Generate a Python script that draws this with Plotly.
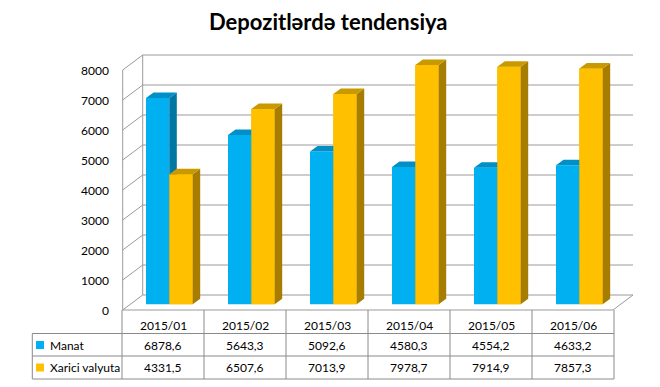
import plotly.graph_objects as go

# ---------------- data ----------------
categories = ["2015/01", "2015/02", "2015/03", "2015/04", "2015/05", "2015/06"]
manat = [6878.6, 5643.3, 5092.6, 4580.3, 4554.2, 4633.2]
xarici = [4331.5, 6507.6, 7013.9, 7978.7, 7914.9, 7857.3]
series_names = ["Manat", "Xarici valyuta"]
y_ticks = [0, 1000, 2000, 3000, 4000, 5000, 6000, 7000, 8000]
title_text = "Depozitlərdə tendensiya"

# ---------------- geometry / style ----------------
# the page body has an 8px default margin, so the figure is made 8px smaller
# and all pixel constants below are given in screen (window) pixels
BODY = 8
W, H = 660 - BODY, 387 - BODY
ML, MR, MT, MB = 120 - BODY, 20, 50 - BODY, 75
PW, PH = W - ML - MR, H - MT - MB
SX0, SY0 = ML + BODY, MT + BODY   # screen position of plot-area top-left
C0 = 163.0          # screen pixel of first category centre
PXC = 82.0          # pixels per category
BASE = 304.3        # screen pixel of value 0 on the bar plane
PXV = 0.03          # pixels per value unit
DX, DY = 7.5, 5.5   # bar depth (pixels)
FRONT_OFF = 5.7     # front plane offset below bar plane (px)
BACK_OFF = 9.3      # back wall offset above bar plane (px)
AX_FRONT_X, AX_BACK_X = 122.7, 142.7
GRID_END_X = 633.0
FLOOR_RIGHT_X = 613.0

FONT = "Lato"
GRID = "#9A9A9A"
TABLE_LINE = "#8A8A8A"
colors = {
    "Manat": dict(front="#00B0F0", side="#0076A3", top="#008FC6"),
    "Xarici valyuta": dict(front="#FFC000", side="#A67D00", top="#C99A00"),
}
bar_off = {"Manat": (-17.0, 23.3), "Xarici valyuta": (6.3, 23.4)}


def xd(px):
    return (px - C0) / PXC


def ux(px):
    return px / PXC


def uy(px):
    return px / PXV


def pxp(x):
    return (x - SX0) / PW


def pyp(y):
    return (SY0 + PH - y) / PH


idx = list(range(len(categories)))
values = {"Manat": manat, "Xarici valyuta": xarici}

fig = go.Figure()

# front faces as real bars
for name in series_names:
    off, wid = bar_off[name]
    fig.add_trace(go.Bar(
        x=idx, y=values[name], name=name,
        offset=ux(off), width=ux(wid),
        marker=dict(color=colors[name]["front"], line=dict(width=0)),
        showlegend=False, hoverinfo="skip",
    ))


def poly_trace(xs, ys, color):
    return go.Scatter(x=xs, y=ys, mode="lines", fill="toself", fillcolor=color,
                      line=dict(width=0, color=color), hoverinfo="skip",
                      showlegend=False)


# 3D side/top faces, drawn in depth order
for k, name in enumerate(series_names):
    off, wid = bar_off[name]
    fx, fy, sx, sy, tx, ty = [], [], [], [], [], []
    for i, v in zip(idx, values[name]):
        xl = i + ux(off)
        xr = i + ux(off + wid)
        ddx, ddy = ux(DX), uy(DY)
        fx += [xl, xr, xr, xl, xl, None]
        fy += [0, 0, v, v, 0, None]
        sx += [xr, xr + ddx, xr + ddx, xr, xr, None]
        sy += [0, ddy, v + ddy, v, 0, None]
        tx += [xl, xr, xr + ddx, xl + ddx, xl, None]
        ty += [v, v, v + ddy, v + ddy, v, None]
    if k > 0:
        fig.add_trace(poly_trace(fx, fy, colors[name]["front"]))
    fig.add_trace(poly_trace(sx, sy, colors[name]["side"]))
    fig.add_trace(poly_trace(tx, ty, colors[name]["top"]))

shapes = []
annotations = []

# back wall gridlines and left-wall diagonals
for v in y_ticks:
    yb = v + uy(BACK_OFF)
    yf = v - uy(FRONT_OFF)
    shapes.append(dict(type="line", xref="x", yref="y", layer="below",
                       x0=xd(AX_BACK_X), x1=xd(GRID_END_X), y0=yb, y1=yb,
                       line=dict(color=GRID, width=1)))
    shapes.append(dict(type="line", xref="x", yref="y", layer="below",
                       x0=xd(AX_FRONT_X), x1=xd(AX_BACK_X), y0=yf, y1=yb,
                       line=dict(color=GRID, width=1)))
    annotations.append(dict(xref="paper", yref="y", x=pxp(111), y=yf,
                            xanchor="right", yanchor="middle", showarrow=False,
                            text=f"{v}", font=dict(family=FONT, size=12, color="#000")))

top_v = y_ticks[-1]
shapes.append(dict(type="line", xref="x", yref="y", layer="below",
                   x0=xd(AX_FRONT_X), x1=xd(AX_FRONT_X),
                   y0=-uy(FRONT_OFF), y1=top_v - uy(FRONT_OFF),
                   line=dict(color=GRID, width=1)))
shapes.append(dict(type="line", xref="x", yref="y", layer="below",
                   x0=xd(AX_BACK_X), x1=xd(AX_BACK_X),
                   y0=uy(BACK_OFF), y1=top_v + uy(BACK_OFF),
                   line=dict(color=GRID, width=1)))
shapes.append(dict(type="line", xref="x", yref="y", layer="below",
                   x0=xd(AX_FRONT_X), x1=xd(FLOOR_RIGHT_X),
                   y0=-uy(FRONT_OFF), y1=-uy(FRONT_OFF),
                   line=dict(color=GRID, width=1)))
shapes.append(dict(type="line", xref="x", yref="y", layer="below",
                   x0=xd(FLOOR_RIGHT_X), x1=xd(GRID_END_X),
                   y0=-uy(FRONT_OFF), y1=uy(BACK_OFF),
                   line=dict(color=GRID, width=1)))

# ---------------- data table ----------------
T_TOP, R1, R2, T_BOT = 310.0, 333.5, 356.0, 379.0
T_LEFT = 32.3
col_edges = [C0 + PXC * (i - 0.5) for i in range(len(categories) + 1)]
for xe in col_edges:
    shapes.append(dict(type="line", xref="paper", yref="paper",
                       x0=pxp(xe), x1=pxp(xe), y0=pyp(T_TOP), y1=pyp(T_BOT),
                       line=dict(color=TABLE_LINE, width=1)))
shapes.append(dict(type="line", xref="paper", yref="paper",
                   x0=pxp(T_LEFT), x1=pxp(T_LEFT), y0=pyp(R1), y1=pyp(T_BOT),
                   line=dict(color=TABLE_LINE, width=1)))
for yr in (R1, R2, T_BOT):
    shapes.append(dict(type="line", xref="paper", yref="paper",
                       x0=pxp(T_LEFT), x1=pxp(col_edges[-1]), y0=pyp(yr), y1=pyp(yr),
                       line=dict(color=TABLE_LINE, width=1)))

row_centres = [325.8, 345.0, 367.5]
for i, cat in enumerate(categories):
    annotations.append(dict(xref="paper", yref="paper", x=pxp(C0 + PXC * i),
                            y=pyp(row_centres[0]), xanchor="center", yanchor="middle",
                            showarrow=False, text=cat,
                            font=dict(family=FONT, size=12, color="#000")))
for r, name in enumerate(series_names):
    yc = row_centres[r + 1]
    for i, v in zip(idx, values[name]):
        annotations.append(dict(xref="paper", yref="paper", x=pxp(C0 + PXC * i),
                                y=pyp(yc), xanchor="center", yanchor="middle",
                                showarrow=False, text=f"{v:.1f}".replace(".", ","),
                                font=dict(family=FONT, size=12, color="#000")))
    shapes.append(dict(type="rect", xref="paper", yref="paper",
                       x0=pxp(36), x1=pxp(44), y0=pyp(yc - 4), y1=pyp(yc + 4),
                       fillcolor=colors[name]["front"], line=dict(width=0)))
    annotations.append(dict(xref="paper", yref="paper", x=pxp(47.5), y=pyp(yc),
                            xanchor="left", yanchor="middle", showarrow=False,
                            text=name, font=dict(family=FONT, size=12, color="#000")))

# title
annotations.append(dict(xref="paper", yref="paper", x=pxp(328.5), y=pyp(21),
                        xanchor="center", yanchor="middle", showarrow=False,
                        text=title_text,
                        font=dict(family=FONT, size=22, color="#000", weight="bold")))

fig.update_layout(
    width=W, height=H,
    margin=dict(l=ML, r=MR, t=MT, b=MB),
    paper_bgcolor="white", plot_bgcolor="white",
    barmode="overlay",
    showlegend=False,
    xaxis=dict(range=[xd(SX0), xd(SX0 + PW)], visible=False, fixedrange=True),
    yaxis=dict(range=[(BASE - (SY0 + PH)) / PXV, (BASE - SY0) / PXV],
               visible=False, fixedrange=True),
    shapes=shapes,
    annotations=annotations,
)

fig.write_html("out.html")
